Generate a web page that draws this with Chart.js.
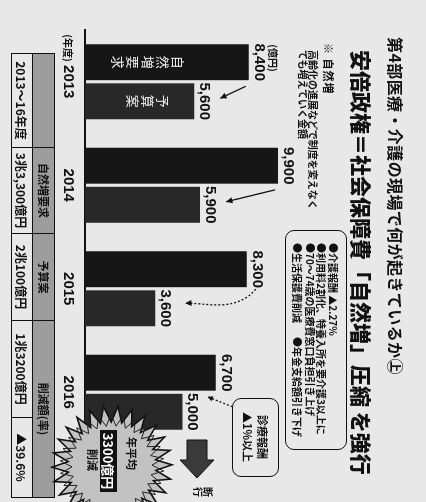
<!DOCTYPE html>
<html><head><meta charset="utf-8">
<script src="https://cdn.jsdelivr.net/npm/chart.js@4.4.1/dist/chart.umd.min.js"></script>
<style>
html,body{margin:0;padding:0;background:#e8e8e8;width:426px;height:502px;overflow:hidden;}
#rot{position:absolute;left:0;top:0;width:502px;height:426px;transform-origin:0 0;transform:translate(426px,0) rotate(90deg);overflow:hidden;background:#e8e8e8;font-family:"Noto Sans CJK JP","Noto Sans",sans-serif;color:#111;}
#c{position:absolute;left:0;top:0;}
.abs{position:absolute;white-space:nowrap;}
#deco{position:absolute;left:0;top:0;}
.box{position:absolute;border:1.5px solid #111;border-radius:9px;box-sizing:border-box;}
.ln{position:absolute;left:12px;font-size:10px;font-weight:700;line-height:12px;white-space:nowrap;}
table{border-collapse:collapse;table-layout:fixed;width:444px;}
td{border:1.5px solid #111;padding:0;height:20px;text-align:center;font-size:12px;font-weight:700;line-height:19px;white-space:nowrap;overflow:hidden;}
tr.h td{background:#9d9d9d;height:21px;font-size:11px;}
</style></head>
<body>
<div id="rot">
  <canvas id="c" width="502" height="426"></canvas>

  <div class="abs" style="left:37px;top:20px;font-size:16px;font-weight:700;line-height:20px;letter-spacing:0.4px;">第4部医療・介護の現場で何が起きているか㊤</div>
  <div class="abs" style="left:50px;top:52px;font-size:21px;font-weight:900;line-height:25px;">安倍政権＝社会保障費「自然増」圧縮 を強行</div>

  <div class="abs" style="left:43px;top:90px;font-size:11px;font-weight:700;line-height:14px;letter-spacing:1px;">※ 自然増</div>
  <div class="abs" style="left:50px;top:108px;font-size:10px;font-weight:700;line-height:10px;">高齢化の進展などで制度を変えなく</div>
  <div class="abs" style="left:50px;top:118px;font-size:10px;font-weight:700;line-height:10px;">ても増えていく金額</div>

  <div class="box" style="left:230px;top:79px;width:220px;height:62px;">
    <div class="ln" style="top:7px;">●介護報酬 ▲2.27%</div>
    <div class="ln" style="top:19px;">●利用料2割化、特養入所を要介護3以上に</div>
    <div class="ln" style="top:30px;">●70〜74歳の医療費窓口負担引き上げ</div>
    <div class="ln" style="top:43px;">●生活保護費削減<span style="margin-left:14px">●年金支給額引き下げ</span></div>
  </div>

  <div class="box" style="left:398px;top:147px;width:79px;height:47px;">
    <div class="abs" style="left:0;width:76px;top:9px;text-align:center;font-size:11px;font-weight:700;line-height:13px;">診療報酬</div>
    <div class="abs" style="left:0;width:76px;top:24px;text-align:center;font-size:11px;font-weight:700;line-height:13px;">▲1%以上</div>
  </div>

  <div class="abs" style="left:53px;top:371px;">
    <table id="tbl"></table>
  </div>

  <svg id="deco" width="502" height="426"></svg>

  <div class="abs" style="left:437px;top:287px;font-size:11px;font-weight:700;line-height:14px;">年平均</div>
  <div class="abs" style="left:430px;top:309px;width:62px;height:17px;background:#111;color:#fff;font-size:13px;font-weight:700;line-height:17px;text-align:center;">3300億円</div>
  <div class="abs" style="left:449px;top:327px;font-size:11px;font-weight:700;line-height:13px;">削減</div>

  <div class="abs" style="left:486px;top:213px;font-size:10px;font-weight:700;line-height:10px;width:12px;text-align:center;">断<br>行</div>
</div>

<script>
// ---- data ----
const years = ['2013', '2014', '2015', '2016'];
const naturalIncrease = [8400, 9900, 8300, 6700];   // 自然増要求 (億円)
const budget = [5600, 5900, 3600, 5000];            // 予算案 (億円)
const seriesNames = ['自然増要求', '予算案'];
const tableHeader = ['', '自然増要求', '予算案', '削減額(率)'];
const tableRow = ['2013〜16年度', '3兆3,300億円', '2兆100億円', '1兆3200億円', '▲39.6%'];

// ---- table ----
const colW = [94, 86, 87, 97, 80];
const tbl = document.getElementById('tbl');
let html = '<colgroup>' + colW.map(w => '<col style="width:' + w + 'px">').join('') + '</colgroup>';
html += '<tr class="h">' + tableHeader.map((t, i) => '<td' + (i === 3 ? ' colspan="2"' : '') + '>' + t + '</td>').join('') + '</tr>';
html += '<tr>' + tableRow.map(t => '<td>' + t + '</td>').join('') + '</tr>';
tbl.innerHTML = html;

// ---- decorations (starburst, block arrow) ----
function starPts(cx, cy, n, ro, ri, rot) {
  const p = [];
  for (let i = 0; i < 2 * n; i++) {
    const r = i % 2 ? ri : ro;
    const a = rot + i * Math.PI / n;
    p.push((cx + r * Math.cos(a)).toFixed(1) + ',' + (cy + r * Math.sin(a)).toFixed(1));
  }
  return p.join(' ');
}
const svg = document.getElementById('deco');
svg.innerHTML =
  '<polygon points="' + starPts(466, 314, 26, 60, 44, 0.1) + '" fill="#c2c2c2" stroke="#111" stroke-width="1.6"/>' +
  '<polygon points="' + starPts(466, 314, 26, 52, 40, 0.22) + '" fill="none" stroke="#222" stroke-width="1"/>' +
  '<polygon points="440,219 460,219 460,212 478,229 460,246 460,239 440,239" fill="#3a3a3a" stroke="#111" stroke-width="1"/>';

// ---- chart ----
function arrowHead(ctx, x1, y1, x2, y2, s) {
  const a = Math.atan2(y2 - y1, x2 - x1);
  ctx.beginPath();
  ctx.moveTo(x2, y2);
  ctx.lineTo(x2 - s * Math.cos(a - 0.45), y2 - s * Math.sin(a - 0.45));
  ctx.lineTo(x2 - s * Math.cos(a + 0.45), y2 - s * Math.sin(a + 0.45));
  ctx.closePath();
  ctx.fill();
}

const labelPlugin = {
  id: 'labels',
  afterDatasetsDraw(chart) {
    const ctx = chart.ctx;
    const m0 = chart.getDatasetMeta(0), m1 = chart.getDatasetMeta(1);
    ctx.save();
    ctx.fillStyle = '#111';
    ctx.textAlign = 'center';
    ctx.textBaseline = 'alphabetic';
    ctx.font = 'bold 15px "Liberation Sans", Arial, sans-serif';
    [m0, m1].forEach((m, di) => {
      m.data.forEach((el, i) => {
        const v = chart.data.datasets[di].data[i];
        ctx.fillText(v.toLocaleString('en-US'), el.x, el.y - 6);
      });
    });
    // unit
    const e0 = m0.data[0];
    ctx.font = 'bold 10px "Noto Sans CJK JP"';
    ctx.textAlign = 'left';
    ctx.fillText('(億円)', e0.x - e0.width / 2, e0.y - 20);

    // inner vertical labels
    ctx.fillStyle = '#eeeeee';
    ctx.font = '13px "Noto Sans CJK JP"';
    ctx.textAlign = 'center';
    ctx.textBaseline = 'middle';
    const cy = chart.chartArea.bottom - 63;
    [[m0.data[0], seriesNames[0]], [m1.data[0], seriesNames[1]]].forEach(([el, txt]) => {
      const n = txt.length;
      for (let k = 0; k < n; k++) ctx.fillText(txt[k], el.x, cy + (k - (n - 1) / 2) * 15);
    });

    // (年度)
    const xs = chart.scales.x;
    ctx.fillStyle = '#111';
    ctx.font = 'bold 10px "Noto Sans CJK JP"';
    ctx.textAlign = 'right';
    ctx.fillText('(年度)', xs.getPixelForValue(0) - 20, xs.top + 17);

    // arrows
    ctx.strokeStyle = '#111';
    ctx.fillStyle = '#111';
    ctx.lineWidth = 1.3;
    for (let i = 0; i < 2; i++) {
      const b1 = m0.data[i], b2 = m1.data[i];
      const sx = b2.x - b2.width / 2 + 3, sy = b1.y + 3;
      const ex = b2.x - 3, ey = b2.y - 26;
      ctx.beginPath(); ctx.moveTo(sx, sy); ctx.lineTo(ex, ey); ctx.stroke();
      arrowHead(ctx, sx, sy, ex, ey, 7);
    }
    // 2015 dotted curve
    {
      const b1 = m0.data[2], b2 = m1.data[2];
      const p0 = [b1.x + b1.width / 2 + 2, b1.y - 9];
      const p1 = [b2.x + 5, b1.y + 12];
      const p2 = [b2.x - 6, b1.y + 42];
      const p3 = [b2.x - 5, b2.y - 30];
      ctx.setLineDash([2, 2]);
      ctx.beginPath(); ctx.moveTo(p0[0], p0[1]);
      ctx.bezierCurveTo(p1[0], p1[1], p2[0], p2[1], p3[0], p3[1]); ctx.stroke();
      ctx.setLineDash([]);
      arrowHead(ctx, p2[0], p2[1], p3[0], p3[1], 7);
    }
    // 2016 dotted from box
    {
      const b2 = m1.data[3];
      const sx = b2.x - 5, sy = b2.y - 50;
      const ex = b2.x - 15, ey = b2.y - 25;
      ctx.setLineDash([2, 2]);
      ctx.beginPath(); ctx.moveTo(sx, sy); ctx.lineTo(ex, ey); ctx.stroke();
      ctx.setLineDash([]);
      arrowHead(ctx, sx, sy, ex, ey, 6);
    }
    ctx.restore();
  }
};

new Chart(document.getElementById('c'), {
  type: 'bar',
  data: {
    labels: years,
    datasets: [
      { label: seriesNames[0], data: naturalIncrease, backgroundColor: '#161616', categoryPercentage: 0.755, barPercentage: 0.92 },
      { label: seriesNames[1], data: budget, backgroundColor: '#282828', categoryPercentage: 0.755, barPercentage: 0.92 }
    ]
  },
  options: {
    responsive: false,
    animation: false,
    layout: { padding: { left: 30, right: 58, top: 107, bottom: 55 } },
    plugins: { legend: { display: false }, tooltip: { enabled: false } },
    scales: {
      x: {
        grid: { display: false },
        border: { display: true, color: '#111', width: 2 },
        ticks: { color: '#111', padding: 0, font: { family: '"Liberation Sans", Arial, sans-serif', size: 15, weight: 'bold' } },
        afterFit: (s) => { s.height = 30; }
      },
      y: { display: false, min: 0, max: 12000 }
    }
  },
  plugins: [labelPlugin]
});
</script>
</body></html>
